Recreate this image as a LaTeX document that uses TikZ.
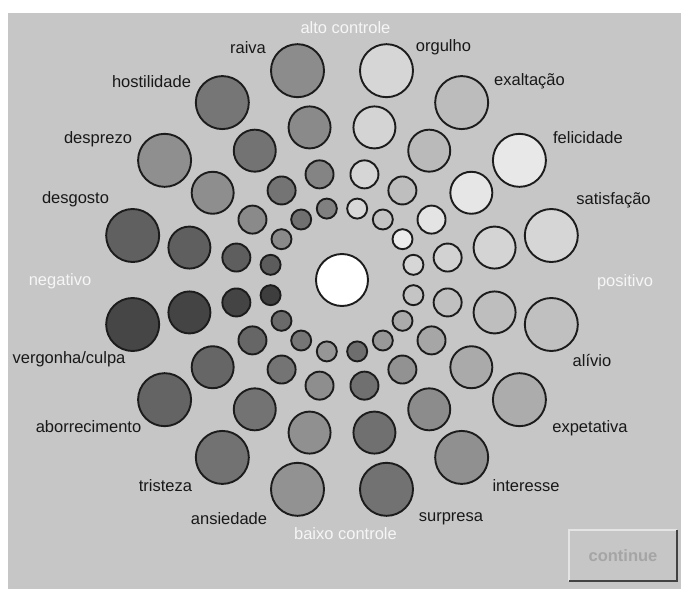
\documentclass[tikz,border=0pt]{standalone}
\usepackage{fontspec}
\setmainfont{Liberation Sans}
\definecolor{panel}{RGB}{198,198,198}
\definecolor{rim}{RGB}{28,28,28}
\definecolor{labeltext}{RGB}{24,24,24}
\definecolor{axistext}{RGB}{246,246,246}
\definecolor{btnlight}{RGB}{228,228,228}
\definecolor{btndark}{RGB}{66,66,66}
\definecolor{btntext}{RGB}{165,165,165}
\tikzset{
  bub/.style={circle, draw=rim, line width=1.9pt, inner sep=0pt},
  emo/.style={font=\fontsize{16.5}{18}\selectfont, text=labeltext, anchor=base, inner sep=0pt},
  axis/.style={font=\fontsize{16.5}{18}\selectfont, text=axistext, anchor=base, inner sep=0pt},
}
\begin{document}
\begin{tikzpicture}[x=1pt, y=-1pt]
  \useasboundingbox (0,0) rectangle (681,589);
  \fill[white] (0,0) rectangle (681,589);
  \fill[panel] (8,13) rectangle (681,589);

  % centre of the wheel
  \coordinate (ctr) at (342,280);
  \node[bub, fill=white, minimum size=52pt] (hub) at (ctr) {};

  % sixteen spokes: index / angle / grey of the four rings (outer to inner)
  \foreach \k/\ang/\ga/\gb/\gc/\gd in {
     1/12/214/212/210/214,
     2/34/232/230/228/236,
     3/56/188/186/190/196,
     4/78/214/212/214/216,
     5/102/140/138/132/128,
     6/124/118/115/116/112,
     7/146/143/142/138/138,
     8/168/96/95/94/92,
     9/192/70/68/68/62,
    10/214/100/102/102/106,
    11/236/114/115/116/118,
    12/258/146/144/142/150,
    13/282/114/112/112/110,
    14/304/144/140/146/152,
    15/326/172/170/166/170,
    16/348/192/190/192/196}{
    \definecolor{ringA}{RGB}{\ga,\ga,\ga}
    \definecolor{ringB}{RGB}{\gb,\gb,\gb}
    \definecolor{ringC}{RGB}{\gc,\gc,\gc}
    \definecolor{ringD}{RGB}{\gd,\gd,\gd}
    \node[bub, fill=ringA, minimum size=53pt] (s\k-4) at ([shift={(-\ang:214)}]ctr) {};
    \node[bub, fill=ringB, minimum size=42pt] (s\k-3) at ([shift={(-\ang:156)}]ctr) {};
    \node[bub, fill=ringC, minimum size=28pt] (s\k-2) at ([shift={(-\ang:108)}]ctr) {};
    \node[bub, fill=ringD, minimum size=20pt] (s\k-1) at ([shift={(-\ang:73)}]ctr) {};
  }

  % emotion names
  \node[emo] (l-raiva)   at (248,53)  {raiva};
  \node[emo] (l-orgulho) at (443.5,52) {orgulho};
  \node[emo] (l-host)    at (151.5,87) {hostilidade};
  \node[emo] (l-exalt)   at (529.5,85) {exaltação};
  \node[emo] (l-despr)   at (98,143)  {desprezo};
  \node[emo] (l-felic)   at (588,143) {felicidade};
  \node[emo] (l-desg)    at (75.5,203) {desgosto};
  \node[emo] (l-satis)   at (613.5,204) {satisfação};
  \node[emo] (l-verg)    at (69,363)  {vergonha/culpa};
  \node[emo] (l-alivio)  at (592,366) {alívio};
  \node[emo] (l-aborr)   at (88.5,432) {aborrecimento};
  \node[emo] (l-expet)   at (590,432) {expetativa};
  \node[emo] (l-trist)   at (165.5,491) {tristeza};
  \node[emo] (l-inter)   at (526,491) {interesse};
  \node[emo] (l-ansied)  at (229,524) {ansiedade};
  \node[emo] (l-surpr)   at (451,521) {surpresa};

  % axis names
  \node[axis] (a-top)    at (345.5,33)  {alto controle};
  \node[axis] (a-bottom) at (345.5,539) {baixo controle};
  \node[axis] (a-left)   at (60,285)    {negativo};
  \node[axis] (a-right)  at (625,286)   {positivo};

  % continue button
  \node[minimum width=108pt, minimum height=51pt, inner sep=0pt, fill=panel,
        font=\bfseries\fontsize{16.5}{18}\selectfont, text=btntext] (btn) at (623,555.5) {continue};
  \draw[btnlight, line width=1.6pt] (btn.south west) -- (btn.north west) -- (btn.north east);
  \draw[btndark, line width=1.9pt] (btn.north east) -- (btn.south east) -- (btn.south west);
\end{tikzpicture}
\end{document}
